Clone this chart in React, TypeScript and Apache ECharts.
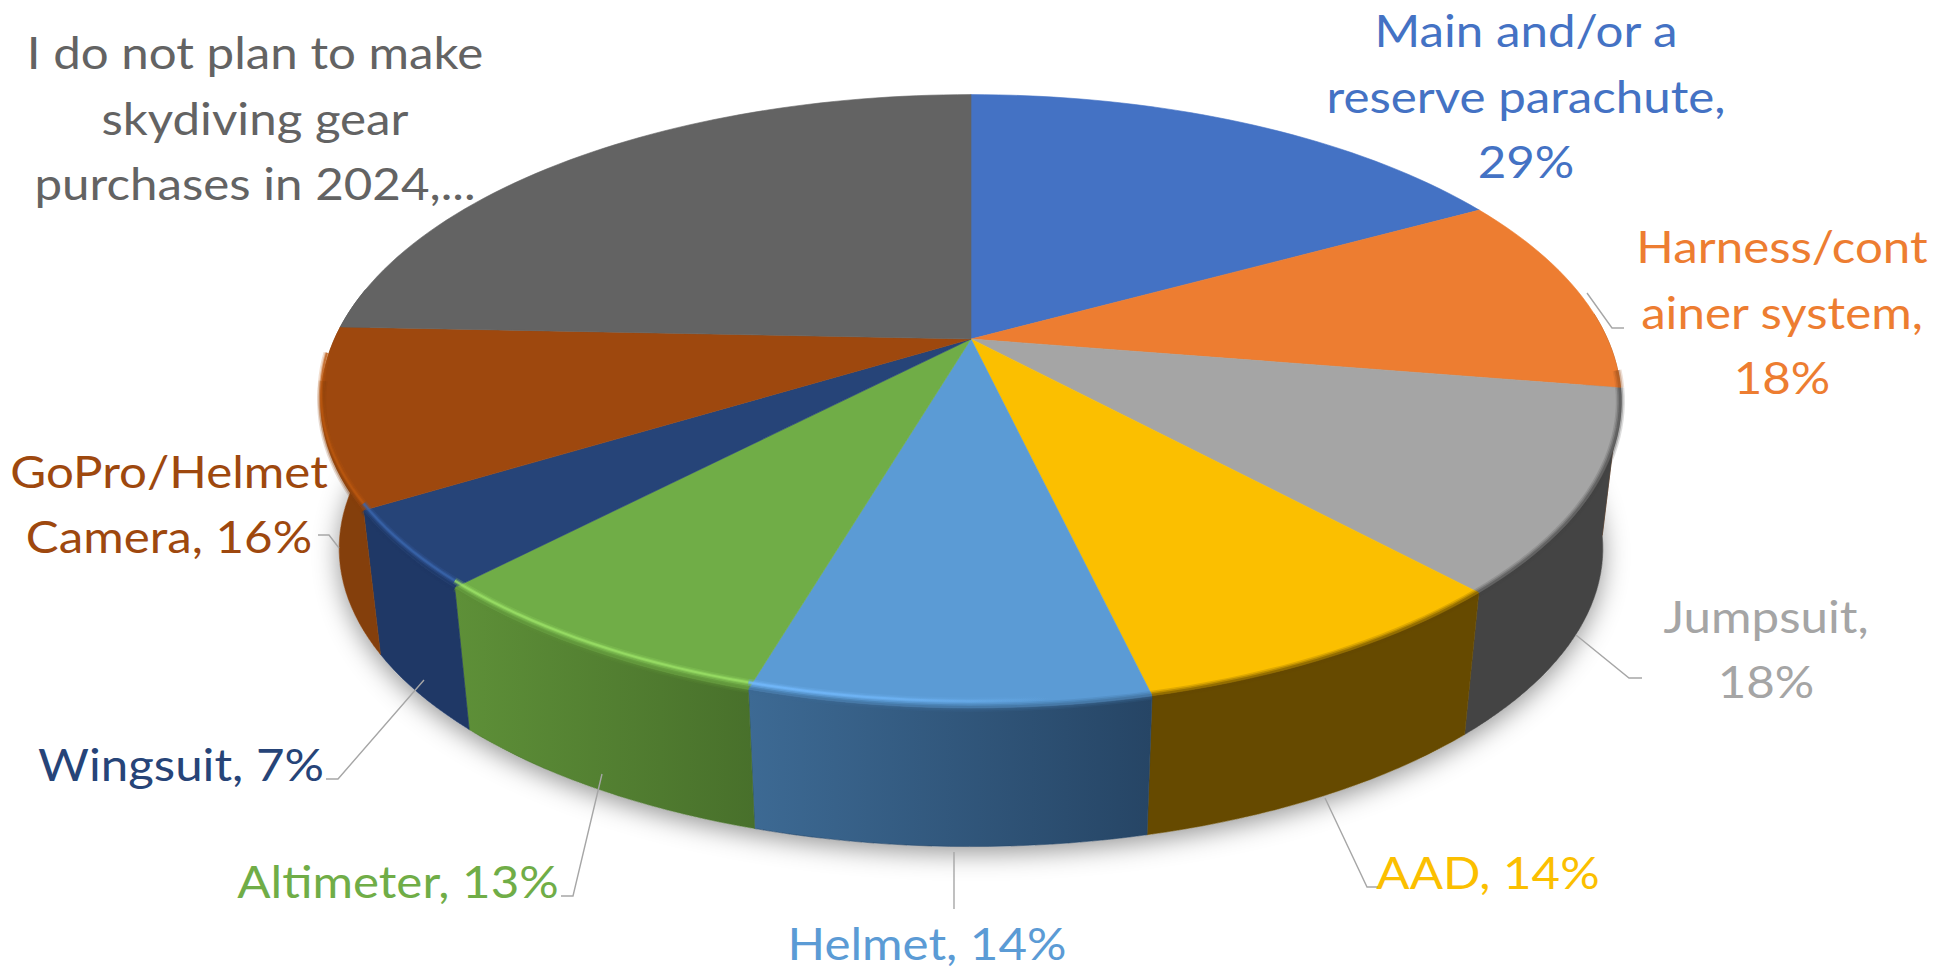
import React, { useEffect, useRef } from "react";
import * as echarts from "echarts";

const categories = [
  "Main and/or a reserve parachute",
  "Harness/container system",
  "Jumpsuit",
  "AAD",
  "Helmet",
  "Altimeter",
  "Wingsuit",
  "GoPro/Helmet Camera",
  "I do not plan to make skydiving gear purchases in 2024",
];
const values = [29, 18, 18, 14, 14, 13, 7, 16, 41.5];
const labels = [
  "Main and/or a\nreserve parachute,\n29%",
  "Harness/cont\nainer system,\n18%",
  "Jumpsuit,\n18%",
  "AAD, 14%",
  "Helmet, 14%",
  "Altimeter, 13%",
  "Wingsuit, 7%",
  "GoPro/Helmet\nCamera, 16%",
  "I do not plan to make\nskydiving gear\npurchases in 2024,...",
];
const faceColors = ["#4472C4", "#ED7D31", "#A5A5A5", "#FBBF00", "#5B9BD5", "#70AD47", "#264478", "#9E480E", "#636363"];
const wallLeft = ["#2E4D85", "#A0541F", "#444444", "#664A00", "#3D6A94", "#5E9038", "#1F3866", "#843F0C", "#444444"];
const wallRight = ["#2E4D85", "#A0541F", "#444444", "#664A00", "#264565", "#48702B", "#1F3866", "#843F0C", "#444444"];
const highlightColors = ["", "", "", "", "#74BBFF", "#9CE268", "#3A66AE", "#BC5810", ""];
const highlightFades = [0, 0, 0, 0, 1, 0, 0, 0, 0];
const labelCenters = [
  [1526, 95], [1782, 311], [1766, 648], [1488, 871], [927, 942], [398, 880], [181, 763], [169, 503], [255, 117],
];
const leaders = [
  null,
  [[1587, 293], [1612, 328], [1624, 328]],
  [[1576, 635], [1629, 678], [1642, 678]],
  [[1325, 798], [1367, 887], [1379, 887]],
  [[954, 852], [954, 909]],
  [[602, 774], [573, 896], [561, 896]],
  [[424, 680], [338, 779], [326, 779]],
  [[339, 548], [329, 535], [318, 535]],
  null,
];

// Perspective projection of the drum: top plane and bottom plane.
const CX = 971;
const TOP_Y = 339;
const BOTTOM_Y = 488;
const BOTTOM_S = 0.972;
const KX = 636.5;
const KY = 294;
const K = 0.203;
const WALL_FROM = 85;
const WALL_TO = 280;
const BAND_FROM = 96;
const BAND_TO = 262;
const GLOW_TO = 266;
const GLOW_LIFT = 7;
const total = values.reduce((a, b) => a + b, 0);

function project(deg: number, r: number, bottom: boolean): number[] {
  const t = (deg * Math.PI) / 180;
  const u = Math.sin(t) * r;
  const v = -Math.cos(t) * r;
  const d = 1 - K * v;
  const s = bottom ? BOTTOM_S : 1;
  return [CX + (s * KX * u) / d, (bottom ? BOTTOM_Y : TOP_Y) + (s * KY * v) / d];
}

function arc(a: number, b: number, r: number, bottom: boolean): number[][] {
  const pts: number[][] = [];
  const n = Math.max(2, Math.ceil(Math.abs(b - a) / 1.5));
  for (let i = 0; i <= n; i++) pts.push(project(a + ((b - a) * i) / n, r, bottom));
  return pts;
}

function alpha(hex: string, a: number): string {
  const n = parseInt(hex.slice(1), 16);
  return `rgba(${(n >> 16) & 255},${(n >> 8) & 255},${n & 255},${a})`;
}

function renderItem(params: any, api: any) {
  const i = params.dataIndex as number;
  const val = api.value(1) as number;
  let before = 0;
  for (let j = 0; j < i; j++) before += values[j];
  const start = (before / total) * 360;
  const end = ((before + val) / total) * 360;
  const children: any[] = [];

  if (i === 0) {
    children.push({
      type: "polygon",
      z2: 0,
      shape: { points: arc(0, 360, 1, true) },
      style: { fill: "#ffffff", shadowBlur: 26, shadowColor: "rgba(0,0,0,0.42)", shadowOffsetY: 6 },
      silent: true,
    });
  }

  const wa = Math.max(start, WALL_FROM);
  const wb = Math.min(end, WALL_TO);
  if (wb > wa) {
    children.push({
      type: "polygon",
      z2: 2 + i,
      shape: { points: [...arc(wa, wb, 1, false), ...arc(wb, wa, 1, true)] },
      style: {
        fill: new echarts.graphic.LinearGradient(0, 0, 1, 0, [
          { offset: 0, color: wallLeft[i] },
          { offset: 1, color: wallRight[i] },
        ]),
        stroke: wallRight[i],
        lineWidth: 0.6,
      },
    });
  }

  children.push({
    type: "polygon",
    z2: 20 + i,
    shape: { points: [[CX, TOP_Y], ...arc(start, end, 1, false)] },
    style: { fill: faceColors[i], stroke: faceColors[i], lineWidth: 0.6 },
  });

  const ba = Math.max(start, BAND_FROM);
  const bb = Math.min(end, BAND_TO);
  if (bb > ba) {
    const band = arc(ba, bb, 0.999, false);
    [[9, 0.18], [6, 0.3], [3, 0.45]].forEach(([w, o]) => {
      children.push({
        type: "polyline",
        z2: 31,
        shape: { points: band },
        style: { fill: "none", stroke: alpha(wallLeft[i], o), lineWidth: w, lineCap: "butt" },
      });
    });
  }
  if (highlightColors[i]) {
    const glow = arc(start, Math.min(end, GLOW_TO), 1, false).map((p) => [p[0], p[1] - GLOW_LIFT]);
    [[7, 0.2], [4, 0.35], [2, 0.7]].forEach(([w, o]) => {
      children.push({
        type: "polyline",
        z2: 32,
        shape: { points: glow },
        style: {
          fill: "none",
          lineWidth: w,
          lineCap: "butt",
          stroke: highlightFades[i]
            ? new echarts.graphic.LinearGradient(0, 0, 1, 0, [
                { offset: 0, color: alpha(highlightColors[i], o) },
                { offset: 0.35, color: alpha(highlightColors[i], o * 0.7) },
                { offset: 0.75, color: alpha(highlightColors[i], 0) },
                { offset: 1, color: alpha(highlightColors[i], 0) },
              ])
            : alpha(highlightColors[i], o),
        },
      });
    });
  }

  const leader = leaders[i];
  if (leader) {
    children.push({
      type: "polyline",
      z2: 40,
      shape: { points: leader },
      style: { fill: "none", stroke: "#A6A6A6", lineWidth: 1.4 },
    });
  }

  children.push({
    type: "text",
    z2: 50,
    x: labelCenters[i][0],
    y: labelCenters[i][1],
    scaleX: 1.095,
    style: {
      text: labels[i],
      fill: faceColors[i],
      font: '400 45px Lato, "Open Sans", sans-serif',
      lineHeight: labels[i].includes("\n") ? 65.5 : 44,
      align: "center",
      verticalAlign: "middle",
    },
  });

  return { type: "group", children };
}

export default function App() {
  const ref = useRef<HTMLDivElement | null>(null);
  useEffect(() => {
    document.body.style.margin = "0";
    const chart = echarts.init(ref.current!, undefined, { renderer: "svg" });
    chart.setOption({
      animation: false,
      backgroundColor: "#ffffff",
      series: [
        {
          type: "custom",
          coordinateSystem: "none",
          name: "Skydiving gear purchases",
          silent: true,
          clip: false,
          renderItem,
          data: categories.map((name, i) => ({ name, value: [i, values[i]] })),
        },
      ],
    });
    return () => chart.dispose();
  }, []);
  return <div ref={ref} style={{ position: "absolute", left: 0, top: 0, width: 1950, height: 969 }} />;
}
